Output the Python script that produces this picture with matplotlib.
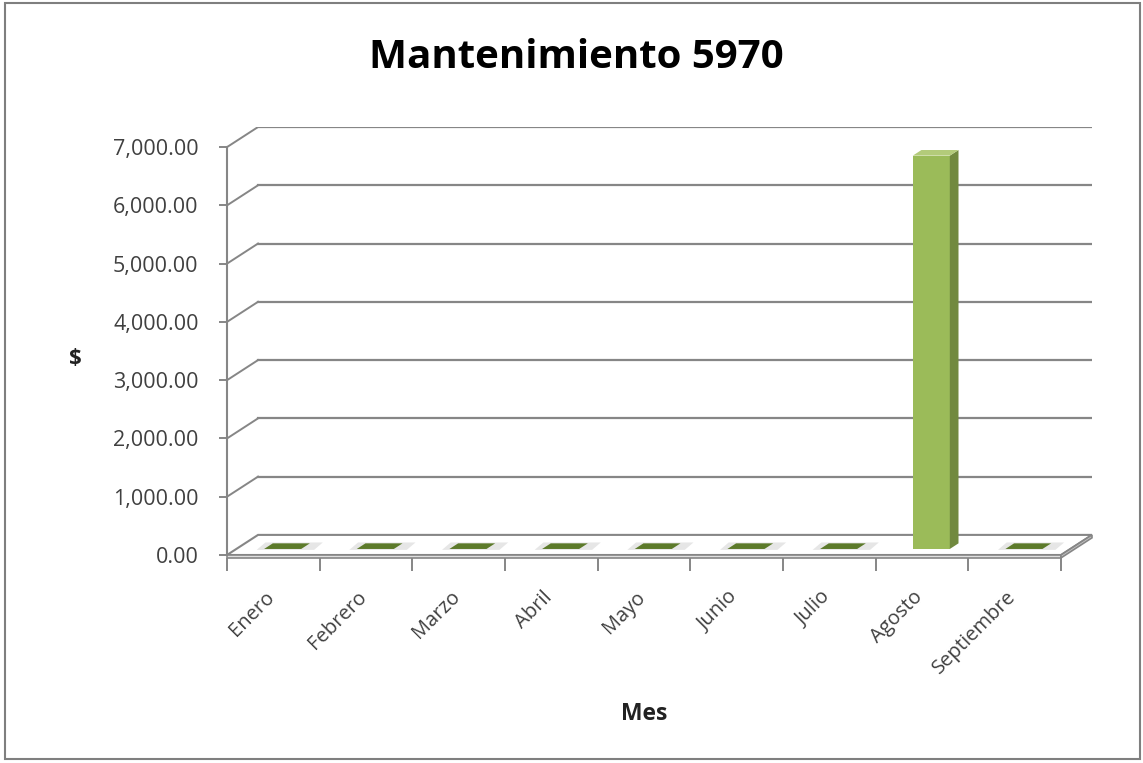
import matplotlib.pyplot as plt
from matplotlib.patches import Polygon, Rectangle
from matplotlib.transforms import ScaledTranslation

meses = ["Enero", "Febrero", "Marzo", "Abril", "Mayo", "Junio",
         "Julio", "Agosto", "Septiembre"]
montos = [0, 0, 0, 0, 0, 0, 0, 6750, 0]
yticks = [0, 1000, 2000, 3000, 4000, 5000, 6000, 7000]
ymax = 7000

# 3D look: depth offset of the back wall (in data units)
dx = 0.335
dy = 345
f0, f1 = 0.30, 0.58   # bar front/back as fraction of the depth
bw = 0.40             # bar width

grid_c = "#868686"
front_c = "#9BBB59"
side_c = "#71893F"
top_c = "#B3CB7A"
flat_c = "#5C7A2A"
text_c = "#404040"

plt.rcParams["font.family"] = ["Open Sans", "DejaVu Sans"]

fig = plt.figure(figsize=(11.43, 7.63), dpi=100)
W, H = 1143, 763
x0, x1, ybot, ytop = 227, 1092, 555, 127
ax = fig.add_axes([x0 / W, 1 - ybot / H, (x1 - x0) / W, (ybot - ytop) / H])
n = len(meses)
ax.set_xlim(0, n + dx)
ax.set_ylim(0, ymax + dy)

# back wall gridlines + side wall diagonals
for v in yticks[1:]:
    ax.plot([dx, n + dx], [v + dy, v + dy], color=grid_c, lw=1.6, zorder=1)
    ax.plot([0, dx], [v, v + dy], color=grid_c, lw=1.4, zorder=1)

# floor (thin slab)
th = 50
floor_top = Polygon([(0, 0), (n, 0), (n + dx, dy), (dx, dy)], closed=True,
                    facecolor="white", edgecolor=grid_c, lw=1.5, zorder=2)
ax.add_patch(floor_top)
floor_front = Polygon([(0, 0), (n, 0), (n, -th), (0, -th)], closed=True,
                      facecolor="#E0E0E0", edgecolor=grid_c, lw=1.2, zorder=2,
                      clip_on=False)
ax.add_patch(floor_front)
floor_side = Polygon([(n, 0), (n + dx, dy), (n + dx, dy - th), (n, -th)],
                     closed=True, facecolor="#C8C8C8", edgecolor=grid_c,
                     lw=1.2, zorder=2, clip_on=False)
ax.add_patch(floor_side)

# bars
for i, v in enumerate(montos):
    cx = i + 0.5
    xl = cx - bw / 2 + f0 * dx
    xr = xl + bw
    yb = f0 * dy
    ddx = (f1 - f0) * dx
    ddy = (f1 - f0) * dy
    if v > 0:
        ax.add_patch(Rectangle((xl, yb), bw, v, facecolor=front_c,
                               edgecolor="none", zorder=4))
        ax.add_patch(Polygon([(xr, yb), (xr + ddx, yb + ddy),
                              (xr + ddx, yb + ddy + v), (xr, yb + v)],
                             facecolor=side_c, edgecolor="none", zorder=4))
        ax.add_patch(Polygon([(xl, yb + v), (xr, yb + v),
                              (xr + ddx, yb + ddy + v), (xl + ddx, yb + ddy + v)],
                             facecolor=top_c, edgecolor="none", zorder=4))
    else:
        # shadow then flat top
        ax.add_patch(Polygon([(xl - 0.08, yb - 15), (xr + 0.14, yb - 15),
                              (xr + ddx + 0.14, yb + ddy + 15),
                              (xl + ddx - 0.08, yb + ddy + 15)],
                             facecolor="#E6E6E6", edgecolor="none", zorder=3))
        ax.add_patch(Polygon([(xl, yb), (xr, yb), (xr + ddx, yb + ddy),
                              (xl + ddx, yb + ddy)],
                             facecolor=flat_c, edgecolor="none", zorder=4))

# axes: front value axis and category axis
for s in ["top", "right"]:
    ax.spines[s].set_visible(False)
ax.spines["left"].set_bounds(0, ymax)
ax.spines["left"].set_color(grid_c)
ax.spines["left"].set_linewidth(1.5)
ax.spines["bottom"].set_position(("data", -th))
ax.spines["bottom"].set_visible(False)

ax.set_yticks(yticks)
ax.set_yticklabels([f"{v:,.2f}" for v in yticks])
ax.tick_params(axis="y", length=6, width=1.4, color=grid_c, labelsize=15.5,
               labelcolor=text_c, pad=14.5)

ax.set_xticks(range(n + 1))
ax.set_xticklabels([""] * (n + 1))
ax.tick_params(axis="x", which="major", length=9, width=1.4, color=grid_c)
ax.set_xticks([i + 0.5 for i in range(n)], minor=True)
ax.set_xticklabels(meses, minor=True, rotation=45, ha="right",
                   rotation_mode="anchor", fontsize=14.5, color=text_c)
ax.tick_params(axis="x", which="minor", length=0, pad=21)
shift = ScaledTranslation(-9 / 100, 0, fig.dpi_scale_trans)
for lbl in ax.get_xticklabels(minor=True):
    lbl.set_transform(lbl.get_transform() + shift)

fig.text(576 / W, 1 - 57 / H, "Mantenimiento 5970", ha="center", va="center",
         fontsize=29, fontweight="bold", color="black")
fig.text(75 / W, 1 - 358 / H, "$", ha="center", va="center", fontsize=16,
         fontweight="bold", color="#222222")
fig.text(644 / W, 1 - 714 / H, "Mes", ha="center", va="center", fontsize=16.5,
         fontweight="bold", color="#222222")

# chart frame
fig.add_artist(Rectangle((5 / W, 4 / H), 1135 / W, 756 / H,
                         transform=fig.transFigure, fill=False,
                         edgecolor="#7F7F7F", lw=1.5))

fig.savefig("out.png", dpi=100)
